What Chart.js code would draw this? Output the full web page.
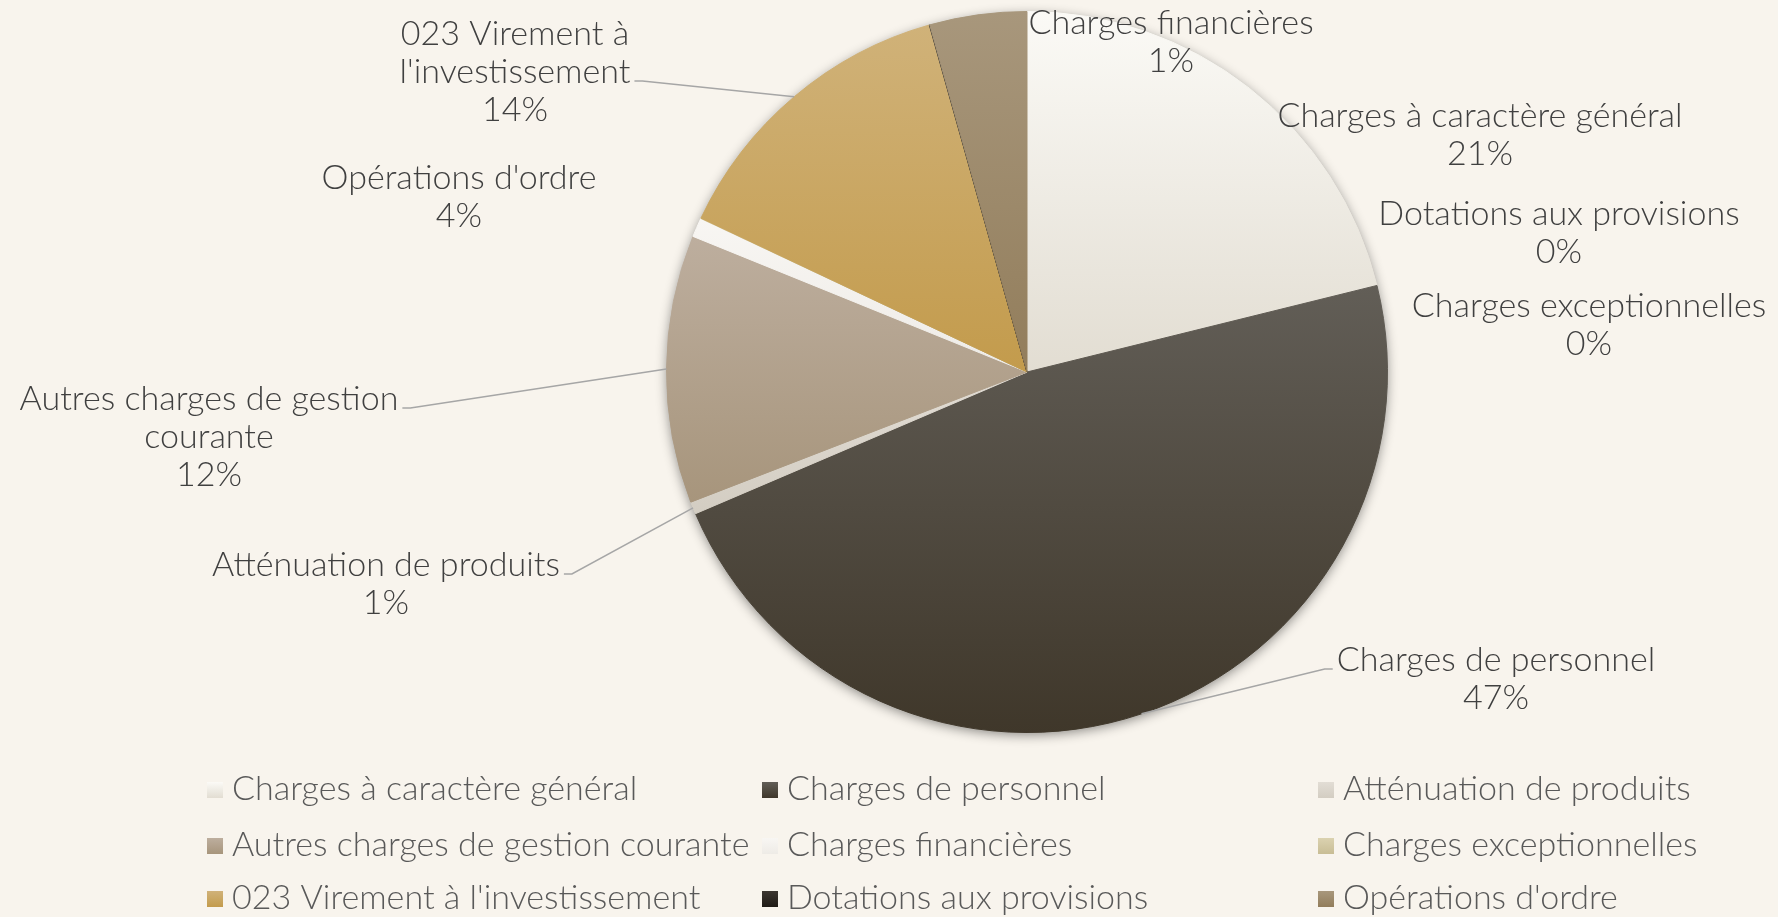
<!DOCTYPE html>
<html>
<head>
<meta charset="utf-8">
<script src="https://cdn.jsdelivr.net/npm/chart.js@4.4.0/dist/chart.umd.min.js"></script>
<style>
  html, body { margin: 0; padding: 0; background: #f8f4ed; overflow: hidden; }
  #wrap { width: 1778px; height: 917px; }
  canvas { display: block; }
</style>
</head>
<body>
<div id="wrap"><canvas id="c" width="1778" height="917"></canvas></div>
<script>
// ---------- DATA ----------
const categories = [
  "Charges à caractère général",
  "Charges de personnel",
  "Atténuation de produits",
  "Autres charges de gestion courante",
  "Charges financières",
  "Charges exceptionnelles",
  "023 Virement à l'investissement",
  "Dotations aux provisions",
  "Opérations d'ordre"
];
// share of total (%)
const shares = [21.15, 47.45, 0.55, 12.02, 0.86, 0.02, 13.62, 0.02, 4.35];
// how the data labels are wrapped on the chart
const labelWraps = [
  ["Charges à caractère général"],
  ["Charges de personnel"],
  ["Atténuation de produits"],
  ["Autres charges de gestion", "courante"],
  ["Charges financières"],
  ["Charges exceptionnelles"],
  ["023 Virement à", "l'investissement"],
  ["Dotations aux provisions"],
  ["Opérations d'ordre"]
];

// ---------- STYLES ----------
const palette = [
  ["#fbfaf6", "#e2ddd2"],
  ["#625e57", "#3f372a"],
  ["#e2ddd5", "#d3cdc2"],
  ["#bdae9e", "#a7957c"],
  ["#f8f6f3", "#eeebe6"],
  ["#dbd2b0", "#c8bd95"],
  ["#d0b279", "#c39b4c"],
  ["#3c3731", "#1f1b16"],
  ["#a8977c", "#927d5b"]
];
const FAMILY = "Lato";
const WEIGHT = "300";
function fitSize(sample, target) {
  const c = document.createElement('canvas').getContext('2d');
  c.font = WEIGHT + ' 100px ' + FAMILY;
  return 100 * target / c.measureText(sample).width;
}
const FONT_SIZE = (fitSize("Charges de personnel", 322) + fitSize("Charges à caractère général", 409) + fitSize("023 Virement à l'investissement", 459)) / 3;
const FONT = WEIGHT + ' ' + FONT_SIZE.toFixed(2) + 'px ' + FAMILY;
const LINE_H = 38;

function sliceGradient(c) {
  const chart = c.chart, i = c.dataIndex, area = chart.chartArea;
  if (i === undefined) return palette[0][0];
  const pal = palette[i];
  if (!area) return pal[0];
  const cx = (area.left + area.right) / 2, cy = (area.top + area.bottom) / 2;
  const r = Math.min(area.right - area.left, area.bottom - area.top) / 2;
  const vals = chart.data.datasets[0].data;
  const total = vals.reduce((a, b) => a + b, 0);
  let cum = 0;
  for (let j = 0; j < i; j++) cum += vals[j];
  const TAU = Math.PI * 2;
  const a0 = TAU * cum / total, a1 = TAU * (cum + vals[i]) / total;
  const ys = [cy, cy - r * Math.cos(a0), cy - r * Math.cos(a1)];
  if (a0 <= 1e-9 || a1 >= TAU - 1e-9) ys.push(cy - r);
  if (a0 <= Math.PI && a1 >= Math.PI) ys.push(cy + r);
  let y0 = Math.min(...ys), y1 = Math.max(...ys);
  if (y1 - y0 < 1) y1 = y0 + 1;
  const g = chart.ctx.createLinearGradient(0, y0, 0, y1);
  g.addColorStop(0, pal[0]);
  g.addColorStop(1, pal[1]);
  return g;
}

// ---------- PLUGINS ----------
const pieShadow = {
  id: 'pieShadow',
  beforeDatasetsDraw(chart) {
    const arc = chart.getDatasetMeta(0).data[0];
    if (!arc) return;
    const { x, y, outerRadius } = arc.getProps(['x', 'y', 'outerRadius'], true);
    const ctx = chart.ctx;
    ctx.save();
    ctx.shadowColor = 'rgba(0,0,0,0.45)';
    ctx.shadowBlur = 12;
    ctx.shadowOffsetY = 3;
    ctx.fillStyle = '#8c8474';
    ctx.beginPath();
    ctx.arc(x, y, outerRadius - 0.5, 0, Math.PI * 2);
    ctx.fill();
    ctx.restore();
  }
};

const sliceLabels = {
  id: 'sliceLabels',
  afterDatasetsDraw(chart, args, opts) {
    const ctx = chart.ctx;
    const meta = chart.getDatasetMeta(0);
    const vals = chart.data.datasets[0].data;
    const total = vals.reduce((a, b) => a + b, 0);
    ctx.save();
    ctx.font = FONT;
    ctx.textAlign = 'center';
    ctx.textBaseline = 'middle';
    meta.data.forEach((arc, i) => {
      const p = arc.getProps(['x', 'y', 'outerRadius', 'startAngle', 'endAngle'], true);
      const L = opts.layout[i];
      const lines = labelWraps[i].concat([Math.round(vals[i] / total * 100) + '%']);
      const lx = p.x + L.dx, ly = p.y + L.dy;
      ctx.fillStyle = '#404040';
      lines.forEach((t, k) => ctx.fillText(t, lx, ly + k * LINE_H));
      if (L.leader) {
        const w = Math.max(...lines.map(t => ctx.measureText(t).width));
        const mid = (p.startAngle + p.endAngle) / 2;
        const px = p.x + p.outerRadius * Math.cos(mid);
        const py = p.y + p.outerRadius * Math.sin(mid);
        const right = L.leader.side === 'right';
        const ax = right ? lx + w / 2 + 4 : lx - w / 2 - 4;
        const ay = ly + L.leader.line * LINE_H + 9;
        const bx = right ? ax + 8 : ax - 8;
        ctx.strokeStyle = '#a6a6a6';
        ctx.lineWidth = 1.5;
        ctx.beginPath();
        ctx.moveTo(ax, ay);
        ctx.lineTo(bx, ay);
        ctx.lineTo(px, py);
        ctx.stroke();
      }
    });
    ctx.restore();
  }
};

const gridLegend = {
  id: 'gridLegend',
  afterDraw(chart, args, opts) {
    const ctx = chart.ctx;
    ctx.save();
    ctx.font = FONT;
    ctx.textAlign = 'left';
    ctx.textBaseline = 'middle';
    chart.data.labels.forEach((lab, i) => {
      const x = opts.cols[i % opts.cols.length];
      const y = opts.rows[Math.floor(i / opts.cols.length)];
      const s = opts.box;
      const g = ctx.createLinearGradient(0, y - s / 2 + 1, 0, y + s / 2 + 1);
      g.addColorStop(0, palette[i][0]);
      g.addColorStop(1, palette[i][1]);
      ctx.fillStyle = g;
      ctx.fillRect(x, y - s / 2 + 1, s, s);
      ctx.fillStyle = '#595959';
      ctx.fillText(lab, x + s + 9, y);
    });
    ctx.restore();
  }
};

// ---------- CHART ----------
new Chart(document.getElementById('c'), {
  type: 'pie',
  data: {
    labels: categories,
    datasets: [{
      data: shares,
      backgroundColor: sliceGradient,
      borderColor: sliceGradient,
      borderWidth: 1,
      hoverOffset: 0
    }]
  },
  options: {
    responsive: false,
    animation: false,
    events: [],
    layout: { padding: { left: 276, right: 0, top: 11, bottom: 184 } },
    plugins: {
      legend: { display: false },
      tooltip: { enabled: false },
      sliceLabels: {
        layout: [
          { dx: 453, dy: -256 },
          { dx: 469, dy: 288, leader: { side: 'left', line: 0 } },
          { dx: -641, dy: 193, leader: { side: 'right', line: 0 } },
          { dx: -818, dy: 27, leader: { side: 'right', line: 0 } },
          { dx: 144, dy: -349 },
          { dx: 562, dy: -66 },
          { dx: -512, dy: -338, leader: { side: 'right', line: 1 } },
          { dx: 532, dy: -158 },
          { dx: -568, dy: -194 }
        ]
      },
      gridLegend: {
        cols: [207, 762, 1318],
        rows: [789, 845, 898],
        box: 16
      }
    }
  },
  plugins: [pieShadow, sliceLabels, gridLegend]
});
</script>
</body>
</html>
